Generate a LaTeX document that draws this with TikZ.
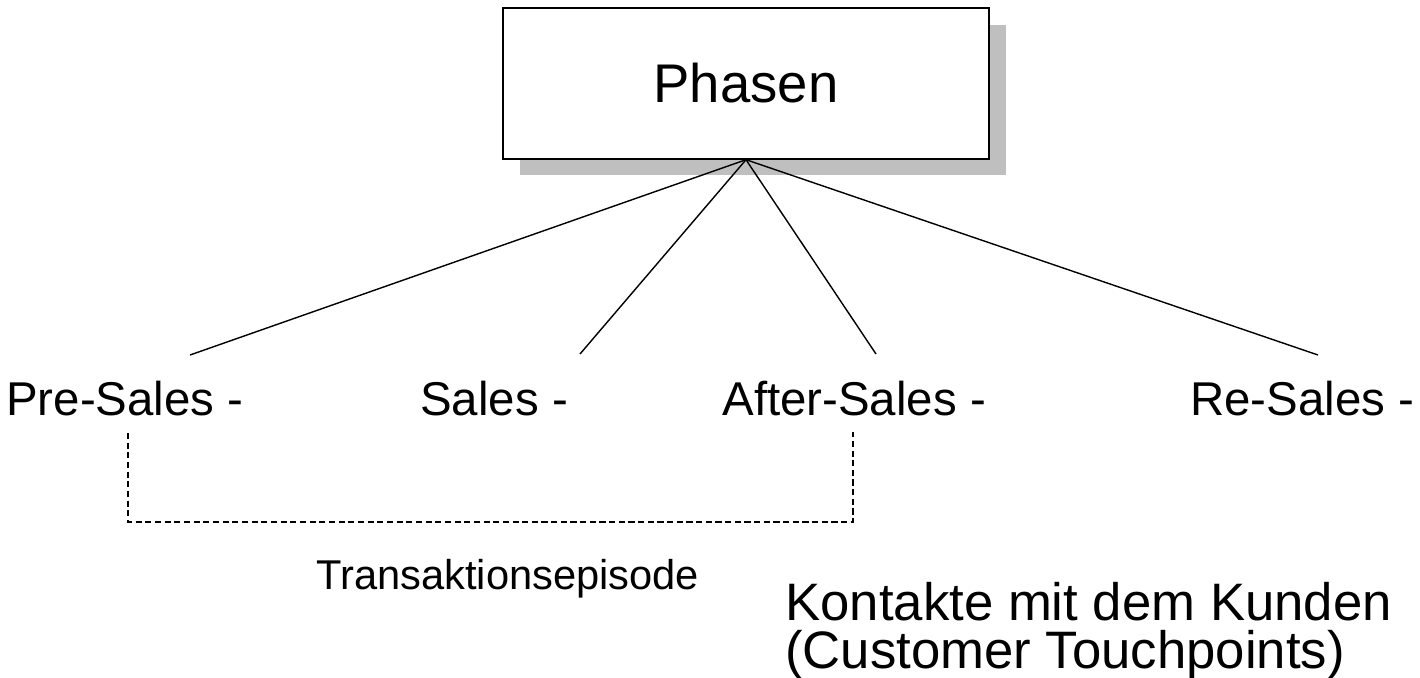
\documentclass[tikz,border=0pt]{standalone}
\usepackage{fontspec}
\setmainfont{Liberation Sans}
\usetikzlibrary{positioning, shadows}

\begin{document}
\begin{tikzpicture}[
    x=0.02cm, y=-0.02cm,          % Koordinaten in Bildpunkten
    phase/.style={draw, fill=white, line width=0.8pt, minimum width=9.72cm, minimum height=3.02cm,
                  drop shadow={shadow xshift=0.34cm, shadow yshift=-0.33cm, fill=gray!50, opacity=1},
                  font=\fontsize{31}{36}\selectfont},
    stage/.style={anchor=base west, inner sep=0pt, font=\fontsize{27}{32}\selectfont},
    edge/.style={line width=0.8pt},
    bracket/.style={line width=0.6pt, dash pattern=on 3.5pt off 2pt}
  ]
  \useasboundingbox (0,0) rectangle (1420,677);

  % Oberbegriff
  \node[phase] (phasen) at (746,83.5) {Phasen};

  % Phasen der Kundenbeziehung
  \node[stage] (pre)   at (6,415)    {Pre-Sales -};
  \node[stage] (sales) at (420,415)  {Sales -};
  \node[stage] (after) at (722,415)  {After-Sales -};
  \node[stage] (re)    at (1190,415) {Re-Sales -};

  % Linienenden oberhalb der Beschriftungen
  \coordinate (preEnd)   at (190,355);
  \coordinate (salesEnd) at (580,354);
  \coordinate (afterEnd) at (876,354);
  \coordinate (reEnd)    at (1318,355);

  \draw[edge] (phasen.south) -- (preEnd);
  \draw[edge] (phasen.south) -- (salesEnd);
  \draw[edge] (phasen.south) -- (afterEnd);
  \draw[edge] (phasen.south) -- (reEnd);

  % Klammer Transaktionsepisode
  \coordinate (bl) at (128,433);
  \coordinate (br) at (853,432);
  \draw[bracket] (bl) -- (128,522) -- (853,522) -- (br);

  \node[anchor=base west, inner sep=0pt, font=\fontsize{23.7}{28}\selectfont] (episode) at (316,589) {Transaktionsepisode};
  \node[anchor=base west, inner sep=0pt, align=left, font=\fontsize{30}{27}\selectfont] (kontakte) at (785,668)
    {Kontakte mit dem Kunden\\(Customer Touchpoints)};

\end{tikzpicture}
\end{document}
